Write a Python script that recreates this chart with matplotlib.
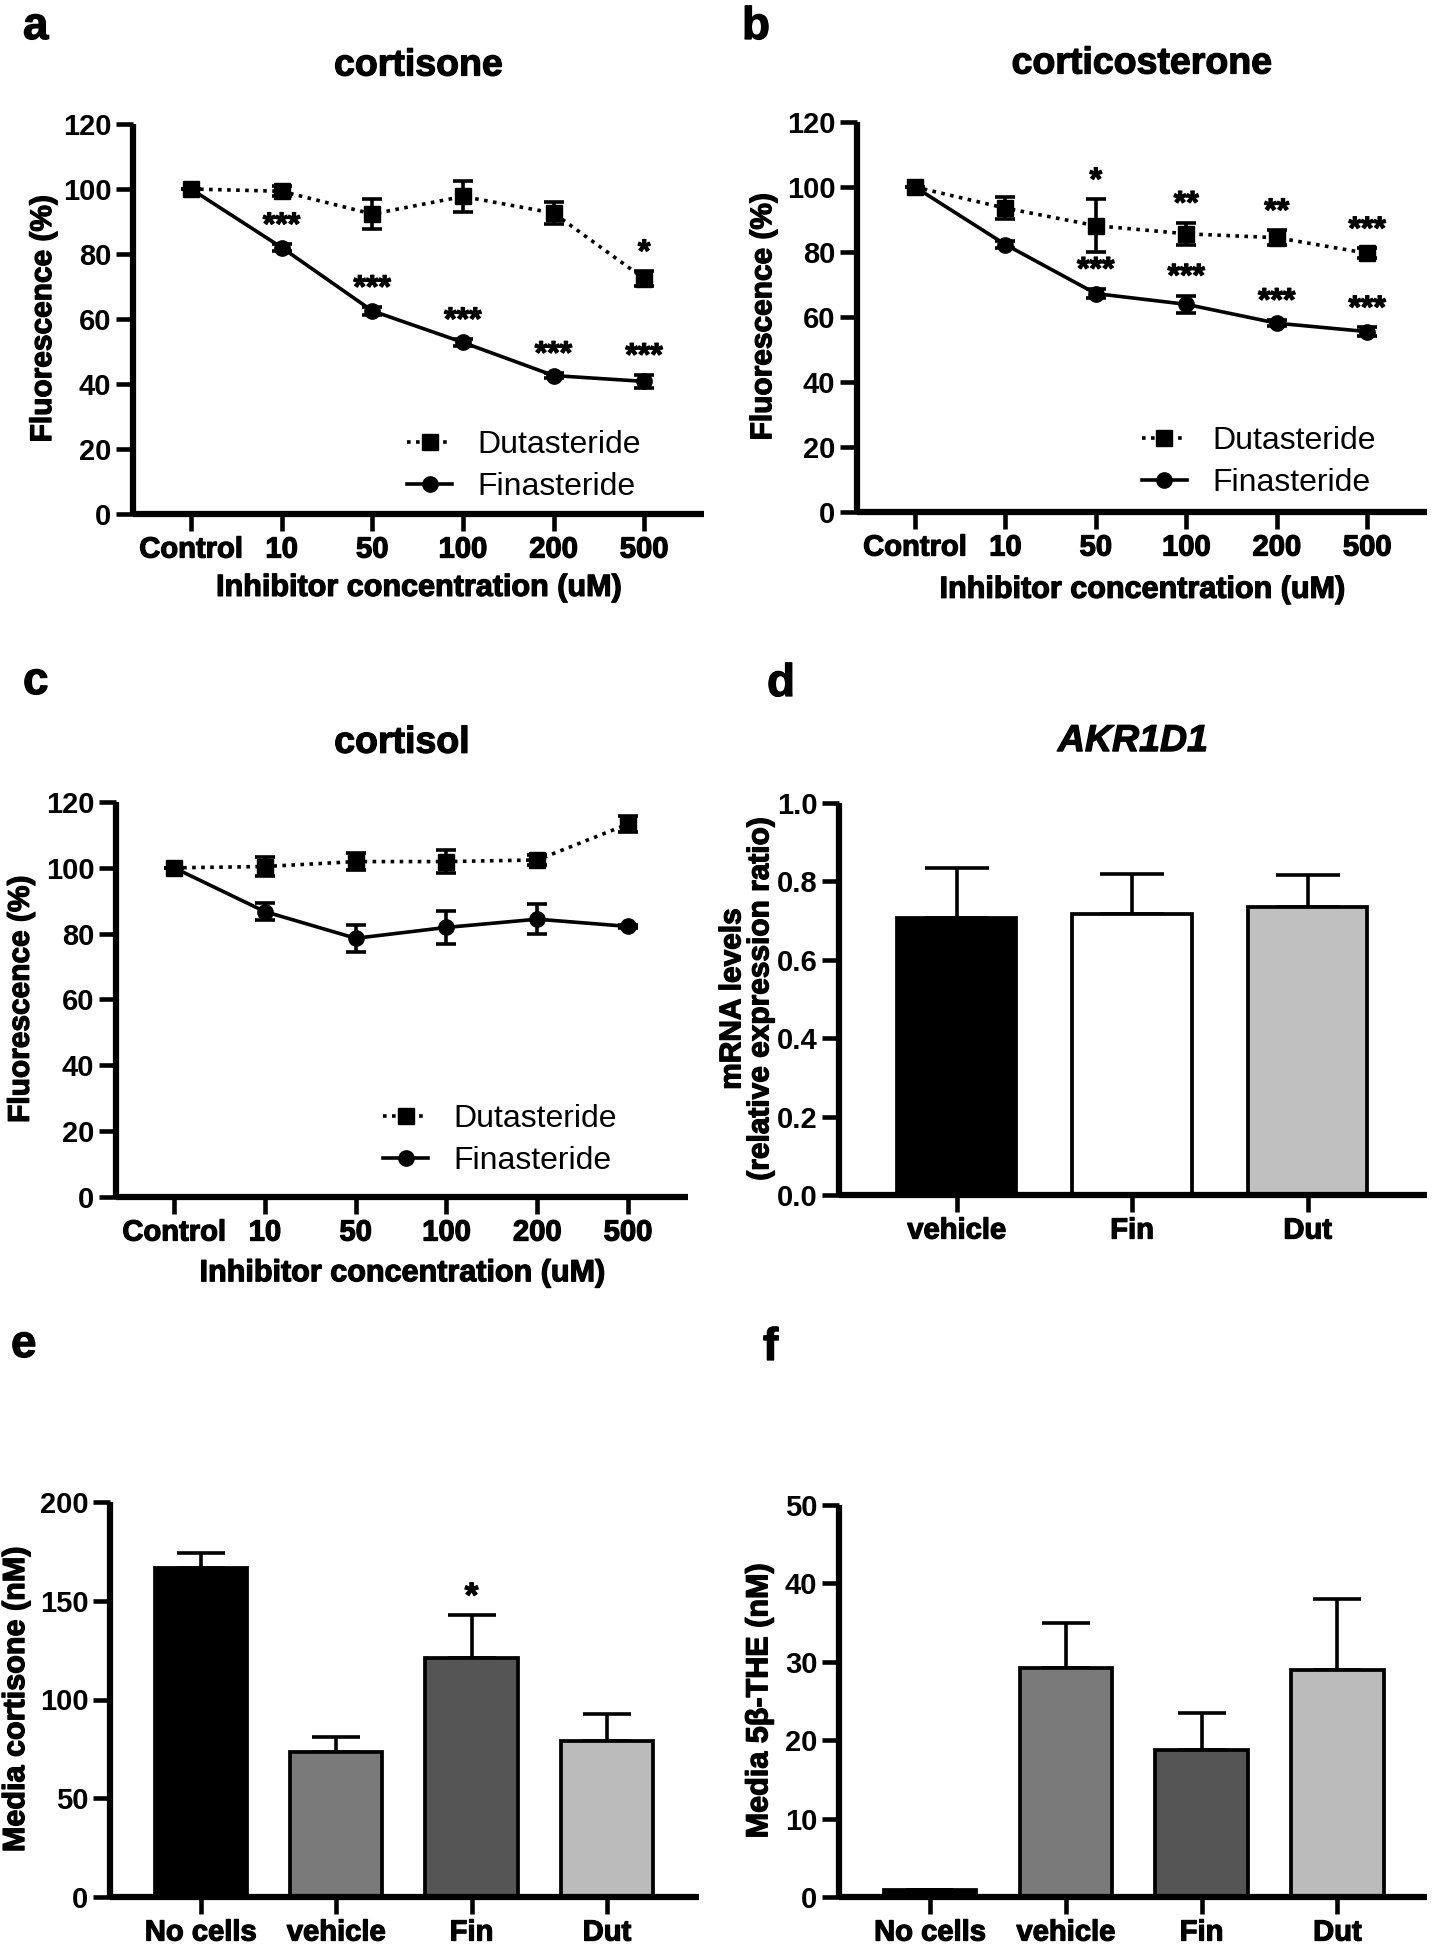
import matplotlib
matplotlib.use('Agg')
import matplotlib.pyplot as plt
import matplotlib.patheffects as pe
from matplotlib.text import Text
import numpy as np
from matplotlib.ticker import FormatStrFormatter

# ---------------- data ----------------
conc_labels = ['Control', '10', '50', '100', '200', '500']

a_dut = [100, 99.3, 92.3, 97.7, 92.6, 72.4]
a_dut_err = [0, 1.5, 4.5, 4.8, 3.3, 2.3]
a_fin = [100, 82.0, 62.5, 52.8, 42.6, 40.8]
a_fin_err = [0, 1.0, 1.2, 1.0, 0.8, 2.0]
a_dut_stars = ['', '', '', '', '', '*']
a_fin_stars = ['', '***', '***', '***', '***', '***']

b_dut = [100, 93.5, 88.1, 85.6, 84.4, 79.6]
b_dut_err = [0, 3.3, 8.1, 3.4, 2.3, 1.5]
b_fin = [100, 82.3, 67.2, 63.9, 58.1, 55.5]
b_fin_err = [0, 1.0, 1.5, 2.7, 1.0, 1.3]
b_dut_stars = ['', '', '*', '**', '**', '***']
b_fin_stars = ['', '', '***', '***', '***', '***']

c_dut = [100, 100.4, 101.9, 101.9, 102.4, 113.3]
c_dut_err = [0, 2.9, 2.7, 3.4, 1.5, 2.5]
c_fin = [100, 86.7, 78.6, 81.9, 84.4, 82.2]
c_fin_err = [0, 2.5, 4.1, 5.0, 4.6, 0.5]

d_cats = ['vehicle', 'Fin', 'Dut']
d_vals = [0.706, 0.718, 0.735]
d_errs = [0.128, 0.100, 0.082]

e_cats = ['No cells', 'vehicle', 'Fin', 'Dut']
e_vals = [166.5, 73.6, 121.0, 79.2]
e_errs = [7.6, 7.6, 21.8, 13.5]
e_stars = ['', '', '*', '']

f_cats = ['No cells', 'vehicle', 'Fin', 'Dut']
f_vals = [0.9, 29.2, 18.75, 29.0]
f_errs = [0.0, 5.7, 4.7, 9.0]

# ---------------- style ----------------
FAM = ['Liberation Sans', 'DejaVu Sans']
plt.rcParams['font.family'] = FAM
plt.rcParams['font.weight'] = 'bold'
plt.rcParams['axes.labelweight'] = 'bold'

TICK_FS = 21
YLABEL_FS = 21.5
XLABEL_FS = 22
TITLE_FS = 27
LEG_FS = 23
STAR_FS = 23
SPINE_W = 4.5
TICK_W = 3.3
LINE_W = 2.6

fig = plt.figure(figsize=(14.34, 19.5), dpi=100)


def px_axes(l, r, t, b):
    W, H = 1434.0, 1950.0
    return fig.add_axes([l / W, 1 - b / H, (r - l) / W, (b - t) / H])


def style(ax):
    for s in ['top', 'right']:
        ax.spines[s].set_visible(False)
    for s in ['left', 'bottom']:
        ax.spines[s].set_linewidth(SPINE_W)
        ax.spines[s].set_capstyle('butt')
    ax.tick_params(axis='both', which='major', width=TICK_W, length=12,
                   direction='out', labelsize=TICK_FS, pad=3.5)


def line_panel(ax, dut, dut_err, fin, fin_err, title, leg_anchor,
               dut_stars=None, fin_stars=None):
    x = np.arange(len(conc_labels))
    cd = ax.errorbar(x, dut, yerr=dut_err, color='black', linestyle=(0, (1, 1.5)),
                     linewidth=LINE_W, marker='s', markersize=12, capsize=7,
                     capthick=LINE_W, elinewidth=LINE_W, clip_on=False, zorder=3)
    cf = ax.errorbar(x, fin, yerr=fin_err, color='black', linestyle='-',
                     linewidth=LINE_W, marker='o', markersize=11, capsize=7,
                     capthick=LINE_W, elinewidth=LINE_W, clip_on=False, zorder=4)
    ax.set_xlim(-0.64, 5.66)
    ax.set_ylim(0, 120)
    ax.set_yticks(np.arange(0, 121, 20))
    ax.set_xticks(x)
    ax.set_xticklabels(conc_labels)
    style(ax)
    ax.set_ylabel('Fluorescence (%)', fontsize=YLABEL_FS)
    ax.set_xlabel('Inhibitor concentration (uM)', fontsize=XLABEL_FS)
    ax.text(0.5, 1.15, title, transform=ax.transAxes, ha='center', va='center',
            fontsize=TITLE_FS, fontweight='bold')
    ax.legend([cd[0], cf[0]], ['Dutasteride', 'Finasteride'], loc='lower right',
              bbox_to_anchor=leg_anchor, frameon=False, borderpad=0,
              borderaxespad=0, handlelength=1.4, handletextpad=0.8,
              labelspacing=0.38,
              prop={'family': FAM, 'weight': 'normal', 'size': LEG_FS})
    for stars, vals, errs in ((dut_stars, dut, dut_err), (fin_stars, fin, fin_err)):
        if stars is None:
            continue
        for xi, s, v, e in zip(x, stars, vals, errs):
            if s:
                ax.annotate(s, (xi, v + e), xytext=(0, 7), textcoords='offset points',
                            ha='center', va='baseline', fontsize=STAR_FS,
                            fontweight='bold', annotation_clip=False)


def bar_panel(ax, cats, vals, errs, colors, ylim, yticks, capsize, stars=None):
    x = np.arange(len(cats))
    ax.errorbar(x, vals, yerr=[np.zeros(len(vals)), errs], fmt='none', ecolor='black',
                elinewidth=2.6, capsize=capsize, capthick=2.6, zorder=1)
    ax.bar(x, vals, width=0.68, color=colors, edgecolor='black', linewidth=2.7, zorder=2)
    ax.set_ylim(*ylim)
    ax.set_yticks(yticks)
    ax.set_xticks(x)
    ax.set_xticklabels(cats)
    style(ax)
    if stars:
        for xi, s, v, e in zip(x, stars, vals, errs):
            if s:
                ax.annotate(s, (xi, v + e), xytext=(0, 6), textcoords='offset points',
                            ha='center', va='baseline', fontsize=STAR_FS + 2,
                            fontweight='bold', annotation_clip=False)


# ---------------- panel a ----------------
ax_a = px_axes(133, 704, 124, 514)
line_panel(ax_a, a_dut, a_dut_err, a_fin, a_fin_err, 'cortisone', (0.89, 0.03),
           a_dut_stars, a_fin_stars)
ax_a.yaxis.set_label_coords(-0.133, 0.5)
ax_a.xaxis.set_label_coords(0.5, -0.151)

# ---------------- panel b ----------------
ax_b = px_axes(857, 1427, 122, 512)
line_panel(ax_b, b_dut, b_dut_err, b_fin, b_fin_err, 'corticosterone', (0.91, 0.036),
           b_dut_stars, b_fin_stars)
ax_b.yaxis.set_label_coords(-0.14, 0.5)
ax_b.xaxis.set_label_coords(0.5, -0.161)

# ---------------- panel c ----------------
ax_c = px_axes(116, 688, 802, 1197)
line_panel(ax_c, c_dut, c_dut_err, c_fin, c_fin_err, 'cortisol', (0.876, 0.053))
ax_c.yaxis.set_label_coords(-0.142, 0.5)
ax_c.xaxis.set_label_coords(0.5, -0.155)

# ---------------- panel d ----------------
ax_d = px_axes(839, 1427, 803, 1195)
bar_panel(ax_d, d_cats, d_vals, d_errs, ['black', 'white', '#c0c0c0'], (0, 1.0),
          np.arange(0, 1.01, 0.2), capsize=23)
ax_d.set_xlim(-0.67, 2.68)
ax_d.yaxis.set_major_formatter(FormatStrFormatter('%.1f'))
ax_d.set_ylabel('mRNA levels\n(relative expression ratio)', fontsize=YLABEL_FS,
                linespacing=1.0)
ax_d.yaxis.set_label_coords(-0.11, 0.5)
ax_d.text(0.5, 1.158, 'AKR1D1', transform=ax_d.transAxes, ha='center', va='center',
          fontsize=TITLE_FS, fontweight='bold', fontstyle='italic')

# ---------------- panel e ----------------
ax_e = px_axes(110, 699, 1502, 1897)
bar_panel(ax_e, e_cats, e_vals, e_errs, ['black', '#7a7a7a', '#555555', '#bbbbbb'],
          (0, 200), np.arange(0, 201, 50), capsize=17, stars=e_stars)
ax_e.set_xlim(-0.67, 3.68)
ax_e.set_ylabel('Media cortisone (nM)', fontsize=22)
ax_e.yaxis.set_label_coords(-0.134, 0.5)

# ---------------- panel f ----------------
ax_f = px_axes(839, 1427, 1505, 1897)
bar_panel(ax_f, f_cats, f_vals, f_errs, ['black', '#7a7a7a', '#555555', '#bbbbbb'],
          (0, 50), np.arange(0, 51, 10), capsize=17)
ax_f.set_xlim(-0.67, 3.66)
ax_f.set_ylabel('Media 5β-THE (nM)', fontsize=22)
ax_f.yaxis.set_label_coords(-0.11, 0.5)

# ---------------- panel letters ----------------
letters = [('a', 23, 39), ('b', 742, 39), ('c', 23, 694), ('d', 767, 696),
           ('e', 11, 1357), ('f', 763, 1360)]
for s, lx, ly in letters:
    fig.text(lx / 1434, 1 - ly / 1950, s, ha='left', va='baseline', fontsize=33,
             fontweight='bold', family=FAM)

# heavier look for the bold texts (the original uses a very heavy face)
for t in fig.findobj(Text):
    if t.get_text() and t.get_fontweight() in ('bold', 700):
        t.set_path_effects([pe.withStroke(linewidth=0.9, foreground='black')])

fig.savefig('out.png', dpi=100)
